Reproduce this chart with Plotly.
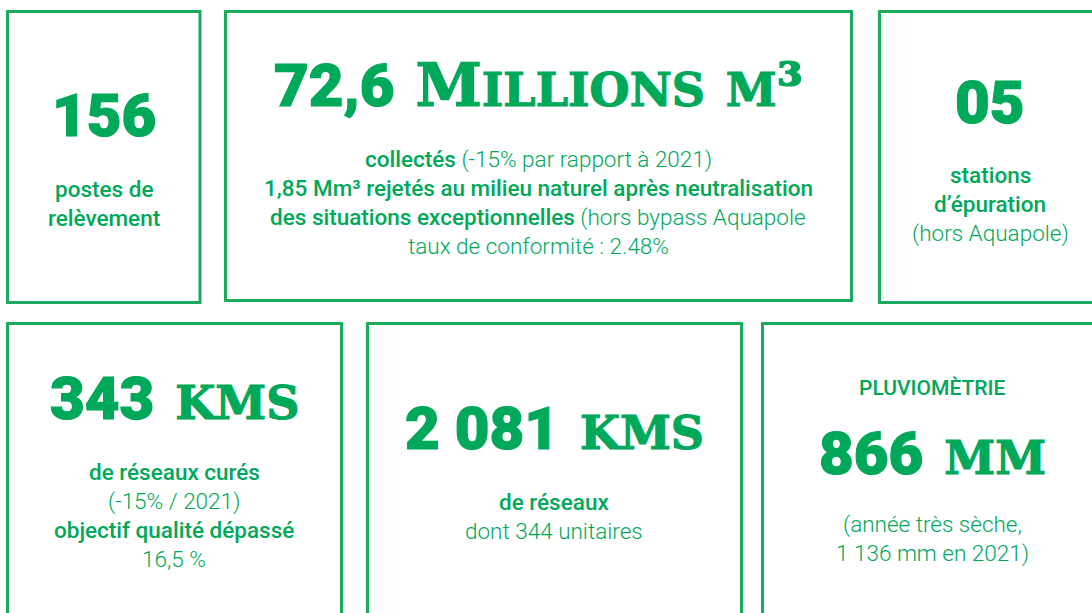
import plotly.graph_objects as go

GREEN = "#00A85A"
BORDER = "#1BA95E"

# ---- data ----
big_values = ["156", "72,6", "05", "343", "2 081", "866"]
big_units = ["", "Millions m³", "", "kms", "kms", "mm"]
headers = ["", "", "", "", "", "PLUVIOMÈTRIE"]
# each description line: list of (text, bold)
descriptions = [
    [[("postes de", True)], [("relèvement", True)]],
    [[("collectés", True), (" (-15% par rapport à 2021)", False)],
     [("1,85 Mm³ rejetés au milieu naturel après neutralisation", True)],
     [("des situations exceptionnelles", True), (" (hors bypass Aquapole", False)],
     [("taux de conformité : 2.48%", False)]],
    [[("stations", True)], [("d’épuration", True)], [("(hors Aquapole)", False)]],
    [[("de réseaux curés", True)], [("(-15% / 2021)", False)],
     [("objectif qualité dépassé", True)], [("16,5 %", False)]],
    [[("de réseaux", True)], [("dont 344 unitaires", False)]],
    [[("(année très sèche,", False)], [("1 136 mm en 2021)", False)]],
]

# ---- layout geometry (page pixel coordinates) ----
boxes = [(7.5, 11.5, 200, 302.5), (225.5, 11.5, 851.5, 300.5), (879.5, 11.5, 1100, 302.5),
         (7.5, 323.5, 341.5, 620), (367.5, 323.5, 741.5, 620), (762.5, 323.5, 1100, 620)]
text_cx = [103.5, 538, 990, 174, 554, 932]
big_cy = [115, 85, 102, 398, 428, 453]
desc_y0 = [189, 159, 175, 472, 502, 524]
header_y = [None, None, None, None, None, 388]
LINE = 29

fig = go.Figure()
fig.add_trace(go.Scatter(x=[0, 1092], y=[0, 613], mode="markers",
                         marker=dict(opacity=0), hoverinfo="skip", showlegend=False))

for (x0, y0, x1, y1) in boxes:
    fig.add_shape(type="rect", x0=x0, y0=y0, x1=x1, y1=y1,
                  line=dict(color=BORDER, width=3), fillcolor="rgba(0,0,0,0)")

STROKE = f"stroke:{GREEN};stroke-width:1.2px"

def smallcaps(s, size):
    out = ""
    for ch in s:
        if ch.islower():
            out += f"<span style='font-size:{size}px;{STROKE}'>{ch.upper()}</span>"
        else:
            out += f"<span style='{STROKE}'>{ch}</span>"
    return out

for i in range(6):
    unit = big_units[i]
    t = (f"<span style='font-family:Roboto;font-weight:900;{STROKE}'>"
         f"{big_values[i]}</span>")
    if unit:
        t += " " + smallcaps(unit, 46)
    fig.add_annotation(x=text_cx[i], y=big_cy[i], text=t, showarrow=False,
                       xanchor="center", yanchor="middle",
                       font=dict(family="DejaVu Serif", size=60, color=GREEN, weight="bold"))
    if headers[i]:
        fig.add_annotation(x=text_cx[i], y=header_y[i], text=headers[i], showarrow=False,
                           xanchor="center", yanchor="middle",
                           font=dict(family="Roboto", size=21, color=GREEN, weight=500))
    for j, line in enumerate(descriptions[i]):
        parts = ""
        for txt, bold in line:
            w = 500 if bold else 300
            parts += f"<span style='font-weight:{w}'>{txt}</span>"
        fig.add_annotation(x=text_cx[i], y=desc_y0[i] + j * LINE, text=parts, showarrow=False,
                           xanchor="center", yanchor="middle",
                           font=dict(family="Roboto", size=22.5, color=GREEN))

fig.update_layout(width=1092, height=613, margin=dict(l=0, r=0, t=0, b=0),
                  paper_bgcolor="white", plot_bgcolor="white", showlegend=False,
                  hovermode=False)
fig.update_xaxes(range=[0, 1092], visible=False, fixedrange=True)
fig.update_yaxes(range=[613, 0], visible=False, fixedrange=True)
fig.write_html("out.html", config={"displayModeBar": False, "staticPlot": True},
               post_script="document.body.style.margin='0px';document.body.style.overflow='hidden';")
